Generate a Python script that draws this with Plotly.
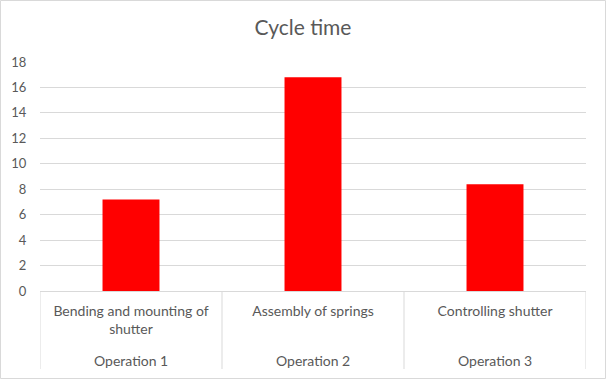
import plotly.graph_objects as go

operations = ["Operation 1", "Operation 2", "Operation 3"]
tasks = ["Bending and mounting of<br>shutter", "Assembly of springs", "Controlling shutter"]
cycle_time = [7.2, 16.8, 8.4]
y_ticks = [0, 2, 4, 6, 8, 10, 12, 14, 16, 18]

W, H = 606, 379
ml, mr, mt, mb = 40, 20, 62, 88
pw, ph = W - ml - mr, H - mt - mb

fig = go.Figure(go.Bar(
    x=list(range(len(tasks))),
    y=cycle_time,
    marker=dict(color="#FF0000", line=dict(width=0)),
    width=0.313,
))

font = "Lato, 'Open Sans', sans-serif"
grey = "#595959"
line_grey = "#d9d9d9"

shapes = [dict(type="rect", xref="paper", yref="paper",
               x0=-ml / pw + 0.5 / pw, x1=1 + (mr - 0.5) / pw,
               y0=-mb / ph + 0.5 / ph, y1=1 + (mt - 0.5) / ph,
               line=dict(color=line_grey, width=1))]
for i in range(len(tasks) + 1):
    shapes.append(dict(type="line", xref="x", yref="paper",
                       x0=i - 0.5, x1=i - 0.5, y0=0, y1=-(369 - 291) / ph,
                       line=dict(color=line_grey, width=1)))

annotations = [dict(text=op, x=i, xref="x", yref="paper", y=-(360 - 291) / ph,
                    yanchor="middle", showarrow=False,
                    font=dict(size=14, color=grey, family=font))
               for i, op in enumerate(operations)]

fig.update_layout(
    width=W, height=H,
    margin=dict(l=ml, r=mr, t=mt, b=mb),
    paper_bgcolor="white", plot_bgcolor="white",
    font=dict(family=font, color=grey, size=13),
    title=dict(text="Cycle time", x=0.5 * (ml + pw + mr) / W, xanchor="center",
               y=1 - 28 / H, yanchor="middle",
               font=dict(size=21, color=grey, family=font)),
    showlegend=False,
    xaxis=dict(
        range=[-0.5, len(tasks) - 0.5],
        tickvals=list(range(len(tasks))), ticktext=tasks,
        showline=True, linecolor=line_grey, linewidth=1,
        showgrid=False, zeroline=False,
        ticks="outside", ticklen=7, tickcolor="rgba(0,0,0,0)",
        tickfont=dict(size=14, color=grey, family=font),
    ),
    yaxis=dict(
        range=[0, 18], tickvals=y_ticks,
        showgrid=True, gridcolor=line_grey, gridwidth=1,
        zeroline=False, showline=False,
        ticks="outside", ticklen=10, tickcolor="rgba(0,0,0,0)",
        tickfont=dict(size=13, color=grey, family=font),
    ),
    shapes=shapes,
    annotations=annotations,
)

fig.write_html("out.html", config={"displayModeBar": False},
               post_script="document.body.style.margin='0';")
